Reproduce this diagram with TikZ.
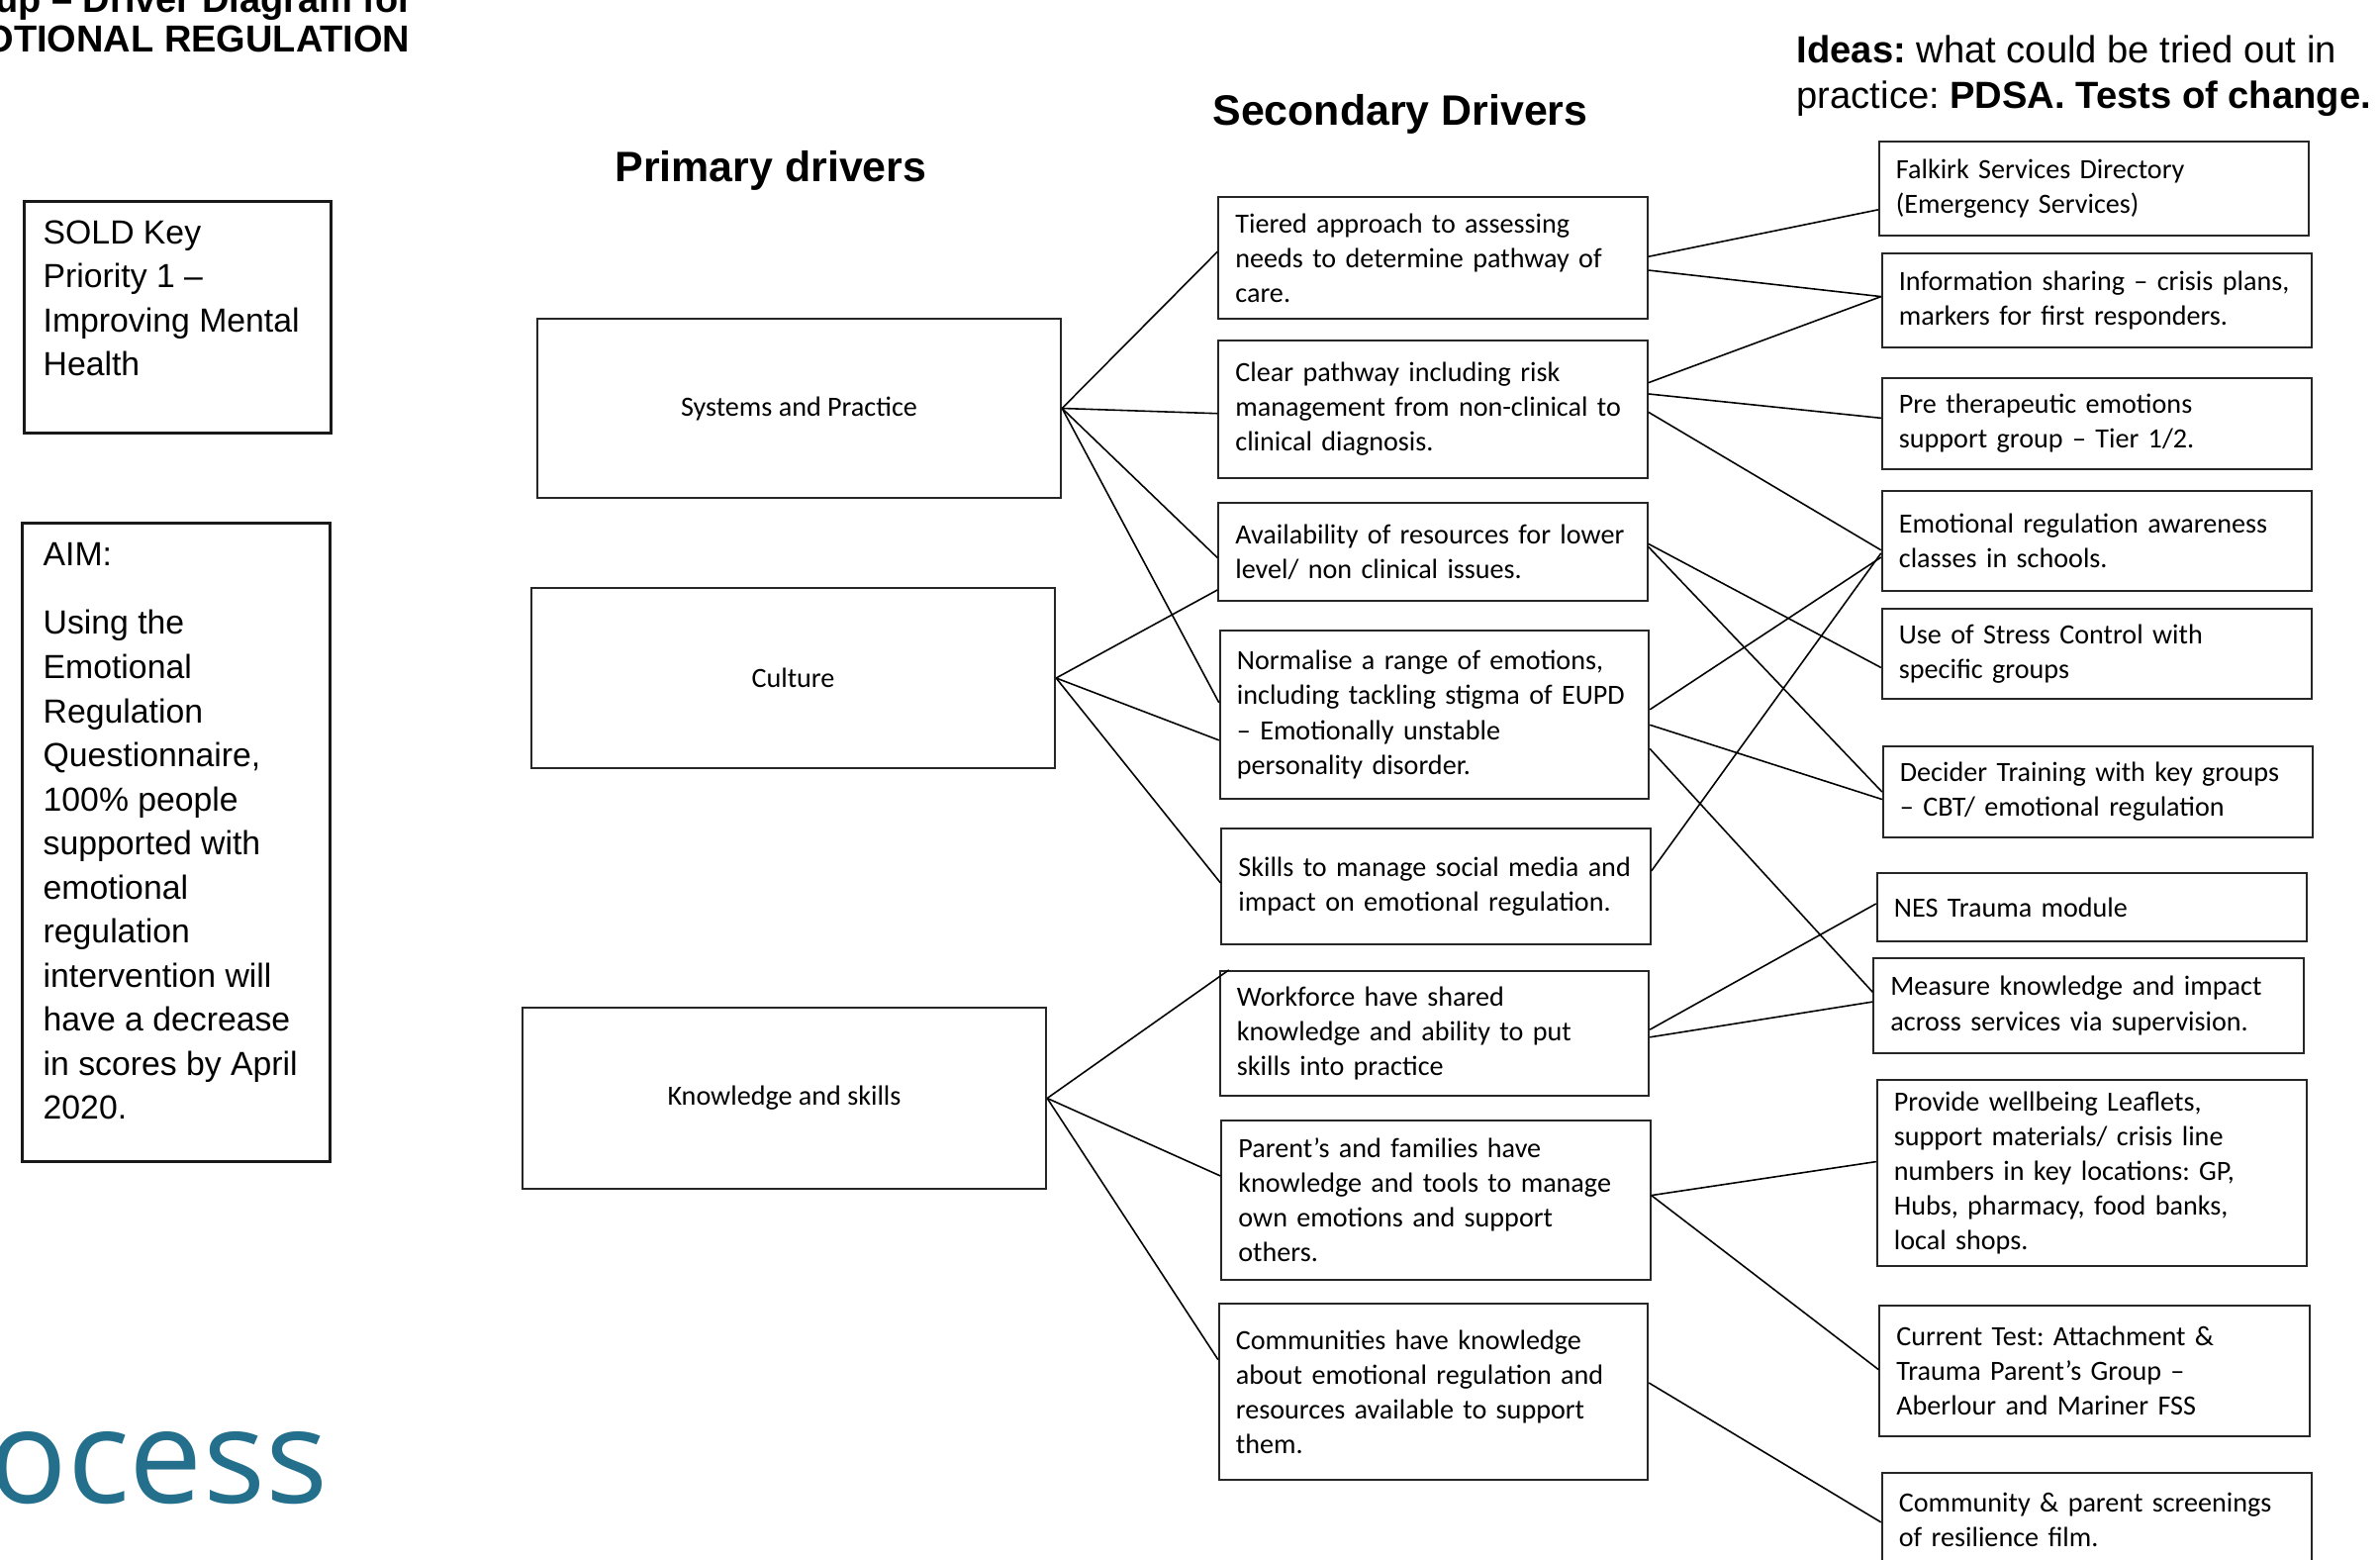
\documentclass[tikz,border=0pt]{standalone}
\usepackage{fontspec}
\setmainfont{Carlito}
\newfontfamily\arialfont{Liberation Sans}
\newfontfamily\logofont{Open Sans}
\usetikzlibrary{calc}
\frenchspacing

\definecolor{logoteal}{RGB}{36,112,140}

\tikzset{
  boxtext/.style={font=\fontsize{8.0}{9.96}\selectfont},
  pribox/.style={draw=black!85, line width=0.6pt, boxtext, align=center,
    minimum width=5.29cm},
  secbox/.style={draw=black!85, line width=0.6pt, boxtext, align=left,
    inner xsep=0.17cm, text width=3.99cm},
  ideabox/.style={draw=black!85, line width=0.6pt, boxtext, align=left,
    inner xsep=0.17cm, text width=4.0cm},
  leftbox/.style={draw=black!90, line width=0.85pt},
  lefttxt/.style={font=\arialfont\fontsize{9.6}{12.66}\selectfont,
    align=left, inner sep=0pt, anchor=north west},
  hdr/.style={font=\arialfont\bfseries\fontsize{12.2}{14}\selectfont,
    inner sep=0pt, anchor=base},
  link/.style={line width=0.45pt, black}
}

\begin{document}
\begin{tikzpicture}[x=0.01cm, y=-0.01cm]

  \useasboundingbox (0,0) rectangle (2405,1576);

  %----- TITLE (cut at the page edge) -----
  \node[font=\arialfont\bfseries\fontsize{10.8}{11.4}\selectfont, align=left,
        inner sep=0pt, anchor=north west] (title) at (-73,-16)
        {Group – Driver Diagram for\\EMOTIONAL REGULATION};

  %----- LEFT BOXES -----
  \node[leftbox, minimum width=3.09cm, minimum height=2.33cm] (sold) at (179.5,320.5) {};
  \node[lefttxt] (soldtxt) at (43,222)
        {SOLD Key\\Priority 1 –\\Improving Mental\\Health};

  \node[leftbox, minimum width=3.10cm, minimum height=6.44cm] (aim) at (178,851) {};
  \node[lefttxt] (aimtxt) at (43,548)
        {AIM:\\[0.245cm]Using the\\Emotional\\Regulation\\Questionnaire,\\100\% people\\supported with\\emotional\\regulation\\intervention will\\have a decrease\\in scores by April\\2020.};

  %----- LOGO TEXT -----
  \node[font=\logofont\fontsize{37.6}{40}\selectfont, text=logoteal,
        inner sep=0pt, anchor=base east] (logo) at (332,1518) {process};

  %----- HEADINGS -----
  \node[hdr] (prihdr) at (779,184) {Primary drivers};
  \node[hdr] (sechdr) at (1415,127) {Secondary Drivers};
  \node[font=\arialfont\fontsize{10.85}{13.1}\selectfont, align=left,
        inner sep=0pt, anchor=north west] (ideahdr) at (1815,35)
        {\textbf{Ideas:} what could be tried out in\\practice: \textbf{PDSA. Tests of change.}};

  %----- PRIMARY DRIVERS -----
  \node[pribox, minimum height=1.81cm] (sp) at (807.5,412.5) {Systems and Practice};
  \node[pribox, minimum height=1.82cm] (cult) at (801.5,685) {Culture};
  \node[pribox, minimum height=1.83cm] (know) at (792.5,1109.5) {Knowledge and skills};

  %----- SECONDARY DRIVERS -----
  \node[secbox, minimum height=1.23cm] (tier) at (1448,260.5)
        {Tiered approach to assessing\\needs to determine pathway of\\care.};
  \node[secbox, minimum height=1.39cm] (clear) at (1448,413.5)
        {Clear pathway including risk\\management from non-clinical to\\clinical diagnosis.};
  \node[secbox, minimum height=0.99cm] (avail) at (1448,557.5)
        {Availability of resources for lower\\level/ non clinical issues.};
  \node[secbox, minimum height=1.70cm] (norm) at (1449.5,722)
        {Normalise a range of emotions,\\including tackling stigma of EUPD\\– Emotionally unstable\\personality disorder.};
  \node[secbox, minimum height=1.17cm] (skills) at (1451,895.5)
        {Skills to manage social media and\\impact on emotional regulation.};
  \node[secbox, minimum height=1.26cm] (work) at (1449.5,1044)
        {Workforce have shared\\knowledge and ability to put\\skills into practice};
  \node[secbox, minimum height=1.61cm] (parent) at (1451,1212.5)
        {Parent’s and families have\\knowledge and tools to manage\\own emotions and support\\others.};
  \node[secbox, minimum height=1.78cm] (comm) at (1448.5,1406)
        {Communities have knowledge\\about emotional regulation and\\resources available to support\\them.};

  %----- IDEAS -----
  \node[ideabox, minimum height=0.95cm] (falk) at (2116,190.5)
        {Falkirk Services Directory\\(Emergency Services)};
  \node[ideabox, minimum height=0.95cm] (info) at (2119,303.5)
        {Information sharing – crisis plans,\\markers for first responders.};
  \node[ideabox, minimum height=0.92cm] (pre) at (2119,428)
        {Pre therapeutic emotions\\support group – Tier 1/2.};
  \node[ideabox, minimum height=1.01cm] (emo) at (2119,546.5)
        {Emotional regulation awareness\\classes in schools.};
  \node[ideabox, minimum height=0.91cm] (stress) at (2119,660.5)
        {Use of Stress Control with\\specific groups};
  \node[ideabox, minimum height=0.92cm] (decider) at (2120,800)
        {Decider Training with key groups\\– CBT/ emotional regulation};
  \node[ideabox, minimum height=0.69cm] (nes) at (2114,916.5)
        {NES Trauma module};
  \node[ideabox, minimum height=0.96cm] (measure) at (2110.5,1016)
        {Measure knowledge and impact\\across services via supervision.};
  \node[ideabox, minimum height=1.88cm] (provide) at (2114,1185)
        {Provide wellbeing Leaflets,\\support materials/ crisis line\\numbers in key locations: GP,\\Hubs, pharmacy, food banks,\\local shops.};
  \node[ideabox, minimum height=1.32cm] (current) at (2116.5,1385)
        {Current Test: Attachment \&\\Trauma Parent’s Group –\\Aberlour and Mariner FSS};
  \node[ideabox, minimum height=0.94cm] (commpar) at (2119,1535)
        {Community \& parent screenings\\of resilience film.};

  %----- PRIMARY TO SECONDARY -----
  \draw[link] (sp.east) -- ($(tier.north west)!.45!(tier.south west)$);
  \draw[link] (sp.east) -- ($(clear.north west)!.53!(clear.south west)$);
  \draw[link] (sp.east) -- ($(avail.north west)!.56!(avail.south west)$);
  \draw[link] (sp.east) -- ($(norm.north west)!.43!(norm.south west)$);
  \draw[link] (cult.east) -- ($(avail.north west)!.88!(avail.south west)$);
  \draw[link] (cult.east) -- ($(norm.north west)!.65!(norm.south west)$);
  \draw[link] (cult.east) -- ($(skills.north west)!.47!(skills.south west)$);
  \draw[link] (know.east) -- ($(work.north west)+(10,0)$);
  \draw[link] (know.east) -- ($(parent.north west)!.35!(parent.south west)$);
  \draw[link] (know.east) -- ($(comm.north west)!.32!(comm.south west)$);

  %----- SECONDARY TO IDEAS -----
  \draw[link] ($(tier.north east)!.49!(tier.south east)$) -- ($(falk.north west)!.72!(falk.south west)$);
  \draw[link] ($(tier.north east)!.60!(tier.south east)$) -- ($(info.north west)!.46!(info.south west)$);
  \draw[link] ($(clear.north east)!.31!(clear.south east)$) -- ($(info.north west)!.46!(info.south west)$);
  \draw[link] ($(clear.north east)!.39!(clear.south east)$) -- ($(pre.north west)!.44!(pre.south west)$);
  \draw[link] ($(clear.north east)!.52!(clear.south east)$) -- ($(emo.north west)!.59!(emo.south west)$);
  \draw[link] ($(avail.north east)!.42!(avail.south east)$) -- ($(stress.north west)!.65!(stress.south west)$);
  \draw[link] ($(avail.north east)!.45!(avail.south east)$) -- ($(decider.north west)!.50!(decider.south west)$);
  \draw[link] ($(norm.north east)!.47!(norm.south east)$) -- ($(emo.north west)!.66!(emo.south west)$);
  \draw[link] ($(norm.north east)!.56!(norm.south east)$) -- ($(decider.north west)!.58!(decider.south west)$);
  \draw[link] ($(norm.north east)!.70!(norm.south east)$) -- ($(measure.north west)!.36!(measure.south west)$);
  \draw[link] ($(skills.north east)!.37!(skills.south east)$) -- ($(emo.north west)!.62!(emo.south west)$);
  \draw[link] ($(work.north east)!.47!(work.south east)$) -- ($(nes.north west)!.45!(nes.south west)$);
  \draw[link] ($(work.north east)!.53!(work.south east)$) -- ($(measure.north west)!.46!(measure.south west)$);
  \draw[link] ($(parent.north east)!.47!(parent.south east)$) -- ($(provide.north west)!.44!(provide.south west)$);
  \draw[link] ($(parent.north east)!.47!(parent.south east)$) -- ($(current.north west)!.49!(current.south west)$);
  \draw[link] ($(comm.north east)!.45!(comm.south east)$) -- ($(commpar.north west)!.53!(commpar.south west)$);

\end{tikzpicture}
\end{document}
